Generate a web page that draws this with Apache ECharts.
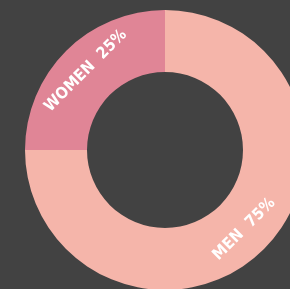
<!DOCTYPE html>
<html>
<head>
  <meta charset="utf-8">
  <script src="https://cdn.jsdelivr.net/npm/echarts@6/dist/echarts.min.js"></script>
  <style>
    html, body { margin: 0; padding: 0; background: #424242; }
    #chart { width: 290px; height: 289px; }
  </style>
</head>
<body>
  <div id="chart"></div>
  <script>
    // datos del gráfico
    const categorias = ['MEN', 'WOMEN'];
    const valores = [75, 25];
    const colores = ['#f5b5aa', '#e08596'];

    var myChart = echarts.init(document.getElementById('chart'));

    let datos = categorias.map((c, i) => ({
      name: c,
      value: valores[i],
      itemStyle: { color: colores[i] }
    }));

    var option = {
      backgroundColor: '#424242',
      animation: false,
      series: [
        {
          type: 'pie',
          center: [165, 150],
          radius: [78, 140],
          startAngle: 90,
          clockwise: true,
          data: datos,
          label: {
            show: true,
            position: 'inside',
            rotate: 'tangential',
            formatter: '{b}  {c}%',
            color: '#ffffff',
            fontFamily: '"DejaVu Sans Condensed", "DejaVu Sans", sans-serif',
            fontWeight: 'bold',
            fontSize: 16
          },
          labelLine: { show: false },
          emphasis: { disabled: true }
        }
      ]
    };

    myChart.setOption(option);
  </script>
</body>
</html>
